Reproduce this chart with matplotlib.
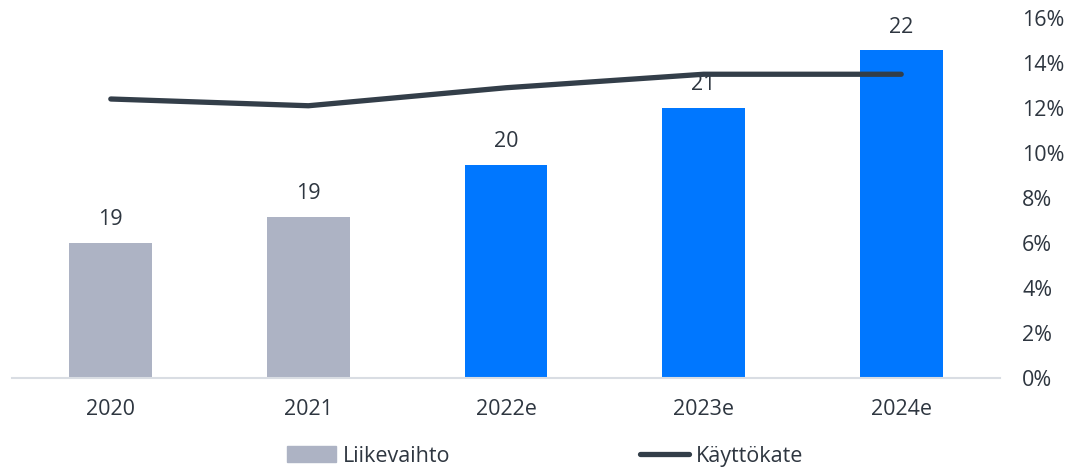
import matplotlib
matplotlib.use("Agg")
import matplotlib.pyplot as plt
from matplotlib.patches import Patch
from matplotlib.lines import Line2D

categories = ["2020", "2021", "2022e", "2023e", "2024e"]
liikevaihto = [18.6, 19.1, 20.1, 21.2, 22.3]
kayttokate = [12.4, 12.1, 12.9, 13.5, 13.5]
bar_colors = ["#adb3c4", "#adb3c4", "#0077ff", "#0077ff", "#0077ff"]
right_ticks = [0, 2, 4, 6, 8, 10, 12, 14, 16]

plt.rcParams["font.family"] = ["Open Sans", "DejaVu Sans"]
text_color = "#2e3640"
fs = 15.5

fig = plt.figure(figsize=(10.8, 4.69), dpi=100)
ax = fig.add_axes([12/1080, 1-378/469, 988/1080, 360/469])
x = list(range(len(categories)))
ax.bar(x, liikevaihto, width=0.42, color=bar_colors, zorder=2)
ax.set_ylim(16, 16 + 360/52)
ax.set_xlim(-0.5, 4.5)
for xi, v in zip(x, liikevaihto):
    ax.text(xi, v + 0.24, f"{v:.0f}", ha="center", va="bottom", fontsize=fs, color=text_color, zorder=1)
ax.set_yticks([])
for s in ["left", "right", "top"]:
    ax.spines[s].set_visible(False)
ax.spines["bottom"].set_color("#d9dde3")
ax.spines["bottom"].set_linewidth(1.5)
ax.set_xticks(x)
ax.set_xticklabels(categories, fontsize=fs, color=text_color)
ax.tick_params(axis="x", length=0, pad=15)

ax2 = ax.twinx()
ax2.plot(x, kayttokate, color="#333e49", linewidth=3.8, solid_capstyle="round", zorder=5)
ax2.set_ylim(0, 16)
ax2.set_yticks(right_ticks)
ax2.set_yticklabels([f"{t}%" for t in right_ticks], fontsize=fs, color=text_color)
ax2.tick_params(axis="y", length=0, pad=16)
for s in ["left", "right", "top", "bottom"]:
    ax2.spines[s].set_visible(False)
ax.set_zorder(1)
ax2.set_zorder(2)
ax2.patch.set_visible(False)

handles = [Patch(color="#adb3c4"), Line2D([], [], color="#333e49", linewidth=3.8, solid_capstyle="round")]
fig.legend(handles, ["Liikevaihto", "Käyttökate"], loc="center", bbox_to_anchor=(545/1080, 1-456/469),
           ncol=2, frameon=False, fontsize=fs, labelcolor=text_color, handlelength=2.3,
           handleheight=0.7, handletextpad=0.3, columnspacing=8.8)

fig.savefig("out.png", dpi=100)
